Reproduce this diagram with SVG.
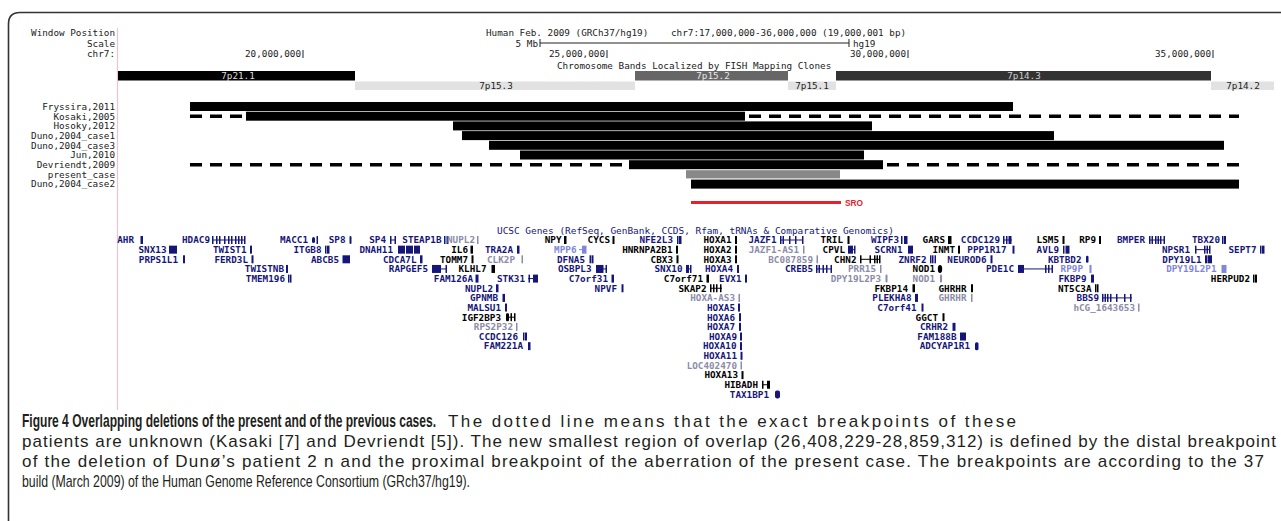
<svg xmlns="http://www.w3.org/2000/svg" width="1281" height="521" viewBox="0 0 1281 521">
<style>
.t{font-family:"DejaVu Sans Mono","Liberation Mono",monospace;font-size:9.3px}
.hd{fill:#222}
.e{text-anchor:end}
.m{text-anchor:middle}
.gt{font-family:"DejaVu Sans Mono","Liberation Mono",monospace;font-size:9.3px;font-weight:bold;text-anchor:end}
.n{fill:#16167a}
.k{fill:#000}
.p{fill:#8c8ca8}
.l{fill:#7f88d8}
.sn{stroke:#16167a;stroke-width:1;fill:none}
.sk{stroke:#000;stroke-width:1;fill:none}
.dash{stroke:#000;stroke-width:3.5;stroke-dasharray:12 8;fill:none}
.cb{font-family:"Liberation Sans",sans-serif;font-size:18px;font-weight:bold;fill:#231f20}
.cr{font-family:"Liberation Sans",sans-serif;font-size:17px;fill:#231f20}
</style>
<rect width="1281" height="521" fill="#fff"/>
<path d="M8.5,521 V24 Q8.5,12.5 20,12.5 H1281" fill="none" stroke="#333" stroke-width="1.6"/>
<line x1="117.5" y1="28" x2="117.5" y2="410" stroke="#f5c2ca" stroke-width="1.2"/>

<g id="header">
<text class="t hd e" x="115" y="36.3">Window Position</text>
<text class="t hd e" x="115" y="47.3">Scale</text>
<text class="t hd e" x="115" y="57.3">chr7:</text>
<text class="t hd" x="486" y="36.3">Human Feb. 2009 (GRCh37/hg19)</text>
<text class="t hd" x="671" y="36.3">chr7:17,000,000-36,000,000 (19,000,001 bp)</text>
<text class="t hd e" x="538" y="47.3">5 Mb</text>
<path d="M540,39 V47 M540,43 H849 M849,39 V47" stroke="#222" stroke-width="1" fill="none"/>
<text class="t hd" x="853" y="47.3">hg19</text>
<text class="t hd e" x="301" y="57.3">20,000,000</text>
<text class="t hd e" x="605" y="57.3">25,000,000</text>
<text class="t hd e" x="906" y="57.3">30,000,000</text>
<text class="t hd e" x="1211" y="57.3">35,000,000</text>
<path d="M303,50 V58 M607,50 V58 M908,50 V58 M1213,50 V58" stroke="#222" stroke-width="1"/>
<text class="t hd" x="557" y="69.3">Chromosome Bands Localized by FISH Mapping Clones</text>
</g>

<g id="bands">
<rect x="118" y="71" width="237" height="9.5" fill="#000"/>
<text class="t m" x="238" y="79.2" fill="#ddd">7p21.1</text>
<rect x="635" y="71" width="153" height="9.5" fill="#666"/>
<text class="t m" x="713" y="79.2" fill="#e8e8e8">7p15.2</text>
<rect x="836" y="71" width="375" height="9.5" fill="#333"/>
<text class="t m" x="1024" y="79.2" fill="#ccc">7p14.3</text>
<rect x="355" y="81.5" width="280" height="8.5" fill="#e2e2e2"/>
<text class="t m hd" x="496" y="89.3">7p15.3</text>
<rect x="788" y="81.5" width="48" height="8.5" fill="#e2e2e2"/>
<text class="t m hd" x="812" y="89.3">7p15.1</text>
<rect x="1211" y="81.5" width="63" height="8.5" fill="#e2e2e2"/>
<text class="t m hd" x="1243" y="89.3">7p14.2</text>
</g>

<g id="track-labels">
<text class="t hd e" x="115" y="109.8">Fryssira,2011</text>
<text class="t hd e" x="115" y="119.5">Kosaki,2005</text>
<text class="t hd e" x="115" y="129.2">Hosoky,2012</text>
<text class="t hd e" x="115" y="138.9">Duno,2004_case1</text>
<text class="t hd e" x="115" y="148.6">Duno,2004_case3</text>
<text class="t hd e" x="115" y="158.3">Jun,2010</text>
<text class="t hd e" x="115" y="168">Devriendt,2009</text>
<text class="t hd e" x="115" y="177.7">present_case</text>
<text class="t hd e" x="115" y="187.4">Duno,2004_case2</text>
</g>

<g id="Fryssira"><rect x="190" y="102" width="823" height="9"/></g>
<g id="Kosaki"><path class="dash" d="M190,116.2 H246"/><rect x="246" y="111.7" width="499" height="9"/><path class="dash" d="M749,116.2 H1239"/></g>
<g id="Hosoky"><rect x="453" y="121.4" width="419" height="9"/></g>
<g id="Duno1"><rect x="462" y="131.1" width="592" height="9"/></g>
<g id="Duno3"><rect x="489" y="140.8" width="735" height="9"/></g>
<g id="Jun"><rect x="520" y="150.5" width="344" height="9"/></g>
<g id="Devriendt"><path class="dash" d="M190,164.7 H629"/><rect x="629" y="160.2" width="254" height="9"/><path class="dash" d="M887,164.7 H1239"/></g>
<g id="present"><rect x="686" y="170.2" width="154" height="8.2" fill="#888"/></g>
<g id="Duno2"><rect x="691" y="179.6" width="548" height="9"/></g>
<g id="SRO"><line x1="691" y1="202.5" x2="841" y2="202.5" stroke="#e3222b" stroke-width="3"/>
<text x="845" y="206" font-family="Liberation Sans,sans-serif" font-size="9" font-weight="bold" fill="#e3222b" textLength="18" lengthAdjust="spacingAndGlyphs">SRO</text></g>

<g id="genes">
<text class="t n" x="497" y="234.3" textLength="397" lengthAdjust="spacingAndGlyphs">UCSC Genes (RefSeq, GenBank, CCDS, Rfam, tRNAs &amp; Comparative Genomics)</text>

<g transform="translate(0,240)">
<text class="gt n" x="134" y="3.3">AHR</text><rect class="n" x="140.5" y="-4" width="2.5" height="8"/>
<text class="gt n" x="210" y="3.3">HDAC9</text><path class="sn" d="M212,0H245"/>
<g class="n"><rect x="212" y="-4" width="1.5" height="8"/><rect x="216" y="-4" width="1.5" height="8"/><rect x="219" y="-4" width="1.5" height="8"/><rect x="224" y="-4" width="1.5" height="8"/><rect x="228" y="-4" width="1.5" height="8"/><rect x="231" y="-4" width="1.5" height="8"/><rect x="235" y="-4" width="1.5" height="8"/><rect x="238" y="-4" width="1.5" height="8"/><rect x="241" y="-4" width="1.5" height="8"/><rect x="244" y="-4" width="1.5" height="8"/></g>
<text class="gt n" x="308" y="3.3">MACC1</text><rect class="n" x="312" y="-3" width="3" height="6" rx="1.5"/><rect class="n" x="316.5" y="-4" width="1.5" height="8"/>
<text class="gt n" x="345.5" y="3.3">SP8</text><rect class="n" x="349.5" y="-4" width="2" height="8" rx="1"/>
<text class="gt n" x="386" y="3.3">SP4</text><path class="sn" d="M390,0H396"/><rect class="n" x="390" y="-4" width="1.5" height="8"/><rect class="n" x="394.5" y="-4" width="1.5" height="8"/>
<text class="gt n" x="441.5" y="3.3">STEAP1B</text><rect class="n" x="444" y="-4" width="1.5" height="8"/><rect class="n" x="446.5" y="-4" width="2" height="8"/>
<text class="gt p" x="475" y="3.3">NUPL2</text><rect class="p" x="477" y="-4" width="1.5" height="8"/>
<text class="gt k" x="561.5" y="3.3">NPY</text><rect class="k" x="564" y="-4" width="2.5" height="8"/>
<text class="gt k" x="610" y="3.3">CYCS</text><rect class="k" x="612.5" y="-4" width="2" height="8"/>
<text class="gt n" x="673" y="3.3">NFE2L3</text><rect class="n" x="677" y="-4" width="1.5" height="8"/><rect class="n" x="679" y="-4" width="2.5" height="8"/>
<text class="gt k" x="731.5" y="3.3">HOXA1</text><rect class="k" x="735" y="-4" width="2" height="8"/>
<text class="gt n" x="776.5" y="3.3">JAZF1</text><path class="sn" d="M780,0H803"/><g class="n"><rect x="780" y="-4" width="1.5" height="8"/><rect x="782.5" y="-4" width="1.5" height="8"/><rect x="789" y="-4" width="1.5" height="8"/><rect x="795" y="-4" width="1.5" height="8"/><rect x="802" y="-4" width="1.5" height="8"/></g>
<text class="gt k" x="843" y="3.3">TRIL</text><rect class="k" x="847.5" y="-4" width="2" height="8"/>
<text class="gt n" x="899" y="3.3">WIPF3</text><rect class="n" x="901" y="-4" width="1.5" height="8"/><rect class="n" x="904" y="-4" width="3.5" height="8"/>
<text class="gt k" x="945" y="3.3">GARS</text><rect class="k" x="948" y="-4" width="3.5" height="8"/>
<text class="gt n" x="1000" y="3.3">CCDC129</text><path class="sn" d="M1003,0H1012"/><rect class="n" x="1003" y="-4" width="1.5" height="8"/><rect class="n" x="1006" y="-4" width="1.5" height="8"/><rect class="n" x="1008.5" y="-4" width="3" height="8"/>
<text class="gt k" x="1059" y="3.3">LSM5</text><rect class="k" x="1062.5" y="-4" width="2" height="8"/>
<text class="gt k" x="1096" y="3.3">RP9</text><rect class="k" x="1099" y="-4" width="2" height="8"/>
<text class="gt n" x="1145" y="3.3">BMPER</text><path class="sn" d="M1149,0H1165"/><g class="n"><rect x="1149" y="-4" width="1.5" height="8"/><rect x="1151.5" y="-4" width="1.5" height="8"/><rect x="1155" y="-4" width="1.5" height="8"/><rect x="1157.5" y="-4" width="1.5" height="8"/><rect x="1160" y="-4" width="1.5" height="8"/><rect x="1163.5" y="-4" width="1.5" height="8"/></g>
<text class="gt n" x="1220" y="3.3">TBX20</text><rect class="n" x="1222" y="-4" width="1.5" height="8"/><rect class="n" x="1224" y="-4" width="2" height="8"/>
</g>

<g transform="translate(0,249.65)">
<text class="gt n" x="166.5" y="3.3">SNX13</text><rect class="n" x="169" y="-4" width="8" height="8"/>
<text class="gt n" x="246.5" y="3.3">TWIST1</text><rect class="n" x="250" y="-4" width="2" height="8"/>
<text class="gt n" x="321.5" y="3.3">ITGB8</text><rect class="n" x="325" y="-4" width="1.5" height="8"/><rect class="n" x="327" y="-4" width="2.5" height="8"/>
<text class="gt n" x="393" y="3.3">DNAH11</text><rect class="n" x="398" y="-4" width="7" height="8"/><rect class="n" x="406" y="-4" width="7" height="8"/><rect class="n" x="414" y="-4" width="6" height="8"/>
<text class="gt k" x="468" y="3.3">IL6</text><rect class="k" x="470.5" y="-4" width="2.5" height="8"/>
<text class="gt n" x="513" y="3.3">TRA2A</text><rect class="n" x="517" y="-4" width="2.5" height="8"/>
<text class="gt l" x="576.5" y="3.3">MPP6</text><path d="M579,0H583" stroke="#7f88d8"/><rect class="l" x="582" y="-4" width="4.5" height="8"/>
<text class="gt k" x="672.5" y="3.3">HNRNPA2B1</text><rect class="k" x="676" y="-4" width="2" height="8"/>
<text class="gt k" x="731.5" y="3.3">HOXA2</text><rect class="k" x="735" y="-4" width="2" height="8"/>
<text class="gt p" x="799" y="3.3">JAZF1-AS1</text><rect class="p" x="803" y="-4" width="1.5" height="8"/>
<text class="gt k" x="845" y="3.3">CPVL</text><path class="sn" d="M848,0H855"/><rect class="n" x="848" y="-4" width="5" height="8"/><rect class="n" x="854" y="-4" width="1.5" height="8"/>
<text class="gt n" x="902.5" y="3.3">SCRN1</text><rect class="n" x="908" y="-4" width="5" height="8"/>
<text class="gt k" x="955" y="3.3">INMT</text><rect class="k" x="958" y="-4" width="2" height="8"/>
<text class="gt n" x="1006.5" y="3.3">PPP1R17</text><rect class="n" x="1012.5" y="-4" width="2" height="8"/>
<text class="gt n" x="1059" y="3.3">AVL9</text><rect class="n" x="1063" y="-4" width="1.5" height="8"/><rect class="n" x="1065.5" y="-4" width="4" height="8"/>
<text class="gt n" x="1190" y="3.3">NPSR1</text><path class="sn" d="M1195,0H1210"/><g class="n"><rect x="1195" y="-4" width="1.5" height="8"/><rect x="1204" y="-4" width="1.5" height="8"/><rect x="1206.5" y="-4" width="1.5" height="8"/><rect x="1209" y="-4" width="1.5" height="8"/></g>
<text class="gt n" x="1256.5" y="3.3">SEPT7</text><rect class="n" x="1260" y="-4" width="1.5" height="8"/><rect class="n" x="1262" y="-4" width="2.5" height="8"/>
</g>

<g transform="translate(0,259.3)">
<text class="gt n" x="178" y="3.3">PRPS1L1</text><rect class="n" x="183" y="-4" width="2" height="8"/>
<text class="gt n" x="248" y="3.3">FERD3L</text><rect class="n" x="251.5" y="-4" width="2" height="8"/>
<text class="gt n" x="339" y="3.3">ABCB5</text><rect class="n" x="342.5" y="-4" width="7.5" height="8"/>
<text class="gt n" x="416.5" y="3.3">CDCA7L</text><rect class="n" x="420" y="-4" width="2.5" height="8"/>
<text class="gt k" x="468" y="3.3">TOMM7</text><rect class="k" x="471.5" y="-4" width="2" height="8"/>
<text class="gt p" x="515" y="3.3">CLK2P</text><rect class="p" x="521.5" y="-4" width="1.5" height="8"/>
<text class="gt n" x="585" y="3.3">DFNA5</text><rect class="n" x="589.5" y="-4" width="1.5" height="8"/><rect class="n" x="591.5" y="-4" width="2" height="8"/>
<text class="gt k" x="673" y="3.3">CBX3</text><rect class="k" x="676.5" y="-4" width="2" height="8"/>
<text class="gt k" x="731.5" y="3.3">HOXA3</text><rect class="k" x="735" y="-4" width="2" height="8"/>
<text class="gt p" x="813" y="3.3">BC087859</text><rect class="p" x="816.5" y="-4" width="1.5" height="8"/>
<text class="gt k" x="856.5" y="3.3">CHN2</text><path class="sk" d="M860,0H880"/><g class="k"><rect x="860" y="-4" width="1.5" height="8"/><rect x="869.5" y="-4" width="1.5" height="8"/><rect x="874" y="-4" width="1.5" height="8"/><rect x="876.5" y="-4" width="1.5" height="8"/><rect x="879" y="-4" width="1.5" height="8"/></g>
<text class="gt n" x="926.5" y="3.3">ZNRF2</text><g class="n"><rect x="930" y="-4" width="1.5" height="8"/><rect x="932" y="-4" width="1.5" height="8"/><rect x="934.5" y="-4" width="1.5" height="8"/></g>
<text class="gt n" x="986.5" y="3.3">NEUROD6</text><rect class="n" x="990.5" y="-4" width="2" height="8"/>
<text class="gt n" x="1081.5" y="3.3">KBTBD2</text><rect class="n" x="1086" y="-3.5" width="2.5" height="7" rx="1.2"/>
<text class="gt n" x="1201.5" y="3.3">DPY19L1</text><rect class="n" x="1205" y="-4" width="2.5" height="8"/><rect class="n" x="1208" y="-4" width="4" height="8"/>
</g>

<g transform="translate(0,268.95)">
<text class="gt n" x="284" y="3.3">TWISTNB</text><rect class="n" x="286" y="-4" width="2" height="8"/>
<text class="gt n" x="428" y="3.3">RAPGEF5</text><path class="sn" d="M432,0H447"/><rect class="n" x="432" y="-4" width="9" height="8"/><rect class="n" x="445.5" y="-4" width="1.5" height="8"/>
<text class="gt k" x="486.5" y="3.3">KLHL7</text><rect class="k" x="491.5" y="-4" width="3.5" height="8"/>
<text class="gt n" x="591.5" y="3.3">OSBPL3</text><path class="sn" d="M596,0H607"/><rect class="n" x="596" y="-4" width="7.5" height="8"/><rect class="n" x="605.5" y="-4" width="1.5" height="8"/>
<text class="gt n" x="682.5" y="3.3">SNX10</text><path class="sn" d="M686,0H691"/><rect class="n" x="686" y="-4" width="3" height="8"/><rect class="n" x="690" y="-4" width="1.5" height="8"/>
<text class="gt n" x="733" y="3.3">HOXA4</text><rect class="n" x="737" y="-4" width="2" height="8"/>
<text class="gt n" x="813" y="3.3">CREB5</text><path class="sn" d="M816,0H832"/><g class="n"><rect x="816" y="-4" width="1.5" height="8"/><rect x="818.5" y="-4" width="1.5" height="8"/><rect x="822.5" y="-4" width="1.5" height="8"/><rect x="826" y="-4" width="1.5" height="8"/><rect x="830.5" y="-4" width="1.5" height="8"/></g>
<text class="gt p" x="876" y="3.3">PRR15</text><rect class="p" x="880" y="-4" width="1.5" height="8"/>
<text class="gt k" x="935" y="3.3">NOD1</text><ellipse class="k" cx="940" cy="0" rx="2.2" ry="4"/>
<text class="gt n" x="1014" y="3.3">PDE1C</text><path class="sn" d="M1018,0H1053"/><rect class="n" x="1018" y="-4" width="6" height="8"/><rect class="n" x="1045" y="-4" width="1.5" height="8"/><rect class="n" x="1048" y="-4" width="1.5" height="8"/><rect class="n" x="1051.5" y="-4" width="1.5" height="8"/>
<text class="gt l" x="1083" y="3.3">RP9P</text><rect class="l" x="1089.5" y="-4" width="2" height="8"/>
<text class="gt l" x="1216.5" y="3.3">DPY19L2P1</text><rect class="l" x="1221.5" y="-4" width="5" height="8"/>
</g>

<g transform="translate(0,278.6)">
<text class="gt n" x="285" y="3.3">TMEM196</text><rect class="n" x="288" y="-4" width="1.5" height="8"/><rect class="n" x="290" y="-4" width="1.5" height="8"/>
<text class="gt n" x="473" y="3.3">FAM126A</text><rect class="n" x="475.5" y="-4" width="3" height="8"/>
<text class="gt n" x="525" y="3.3">STK31</text><path class="sn" d="M528,0H538"/><rect class="n" x="528.5" y="-4" width="1.5" height="8"/><rect class="n" x="533" y="-4" width="5" height="8"/>
<text class="gt n" x="608" y="3.3">C7orf31</text><rect class="n" x="611.5" y="-4" width="2.5" height="8"/>
<text class="gt k" x="703" y="3.3">C7orf71</text><rect class="k" x="706.5" y="-4" width="2.5" height="8"/>
<text class="gt n" x="741.5" y="3.3">EVX1</text><rect class="n" x="745" y="-4" width="2" height="8"/>
<text class="gt p" x="881" y="3.3">DPY19L2P3</text><rect class="p" x="885.5" y="-4" width="2" height="8" rx="1"/>
<text class="gt p" x="935" y="3.3">NOD1</text><rect class="p" x="940" y="-4" width="2" height="8" rx="1"/>
<text class="gt n" x="1086.5" y="3.3">FKBP9</text><rect class="n" x="1091" y="-4" width="3" height="8"/>
<text class="gt k" x="1250" y="3.3">HERPUD2</text><rect class="k" x="1253" y="-4" width="1.5" height="8"/><rect class="k" x="1255" y="-4" width="2" height="8"/>
</g>

<g transform="translate(0,288.25)">
<text class="gt n" x="493" y="3.3">NUPL2</text><rect class="n" x="496" y="-4" width="2.5" height="8"/>
<text class="gt n" x="617" y="3.3">NPVF</text><rect class="n" x="621.5" y="-4" width="2" height="8"/>
<text class="gt k" x="706.5" y="3.3">SKAP2</text><path class="sk" d="M710,0H722"/><g class="k"><rect x="710" y="-4" width="1.5" height="8"/><rect x="713" y="-4" width="1.5" height="8"/><rect x="716" y="-4" width="1.5" height="8"/><rect x="720" y="-4" width="1.5" height="8"/></g>
<text class="gt k" x="908" y="3.3">FKBP14</text><rect class="k" x="912.5" y="-4" width="2.5" height="8"/>
<text class="gt k" x="966.5" y="3.3">GHRHR</text><rect class="k" x="971" y="-4" width="2" height="8"/>
<text class="gt k" x="1091.5" y="3.3">NT5C3A</text><rect class="k" x="1095" y="-4" width="1.5" height="8"/><rect class="k" x="1097" y="-4" width="1.5" height="8"/>
</g>

<g transform="translate(0,297.9)">
<text class="gt n" x="498" y="3.3">GPNMB</text><rect class="n" x="502.5" y="-4" width="2.5" height="8"/>
<text class="gt p" x="735" y="3.3">HOXA-AS3</text><rect class="p" x="738.5" y="-4" width="1.5" height="8"/>
<text class="gt n" x="911.5" y="3.3">PLEKHA8</text><rect class="n" x="915" y="-4" width="3" height="8"/>
<text class="gt p" x="966.5" y="3.3">GHRHR</text><rect class="p" x="971" y="-4" width="1.5" height="8"/>
<text class="gt n" x="1099" y="3.3">BBS9</text><path class="sn" d="M1102,0H1132"/><g class="n"><rect x="1102" y="-4" width="1.5" height="8"/><rect x="1104.5" y="-4" width="1.5" height="8"/><rect x="1107" y="-4" width="1.5" height="8"/><rect x="1110" y="-4" width="1.5" height="8"/><rect x="1116" y="-4" width="1.5" height="8"/><rect x="1124" y="-4" width="1.5" height="8"/><rect x="1130" y="-4" width="1.5" height="8"/></g>
</g>

<g transform="translate(0,307.55)">
<text class="gt n" x="501" y="3.3">MALSU1</text><rect class="n" x="505" y="-4" width="2" height="8"/>
<text class="gt n" x="735" y="3.3">HOXA5</text><rect class="n" x="738" y="-4" width="2" height="8"/>
<text class="gt n" x="916.5" y="3.3">C7orf41</text><rect class="n" x="921.5" y="-4" width="2" height="8"/>
<text class="gt p" x="1135" y="3.3">hCG_1643653</text><rect class="p" x="1138" y="-4" width="1.5" height="8"/>
</g>

<g transform="translate(0,317.2)">
<text class="gt k" x="501" y="3.3">IGF2BP3</text><path class="sk" d="M506,0H515"/><rect class="k" x="506" y="-4" width="3" height="8" rx="1.2"/><rect class="k" x="510.5" y="-4" width="1.5" height="8"/><rect class="k" x="514" y="-4" width="1.5" height="8"/>
<text class="gt n" x="735" y="3.3">HOXA6</text><rect class="n" x="739" y="-4" width="2" height="8"/>
<text class="gt k" x="938" y="3.3">GGCT</text><rect class="k" x="942.5" y="-4" width="2" height="8"/>
</g>

<g transform="translate(0,326.85)">
<text class="gt p" x="513" y="3.3">RPS2P32</text><rect class="p" x="516" y="-4" width="1.5" height="8"/>
<text class="gt n" x="735" y="3.3">HOXA7</text><rect class="n" x="739" y="-4" width="2" height="8"/>
<text class="gt n" x="948" y="3.3">CRHR2</text><rect class="n" x="952.5" y="-4" width="3" height="8"/>
</g>

<g transform="translate(0,336.5)">
<text class="gt n" x="518" y="3.3">CCDC126</text><rect class="n" x="523" y="-4" width="1.5" height="8"/><rect class="n" x="525" y="-4" width="2" height="8"/>
<text class="gt n" x="737" y="3.3">HOXA9</text><rect class="n" x="740" y="-4" width="2" height="8"/>
<text class="gt n" x="956.5" y="3.3">FAM188B</text><rect class="n" x="960" y="-4" width="6" height="8"/>
</g>

<g transform="translate(0,346.15)">
<text class="gt n" x="523" y="3.3">FAM221A</text><rect class="n" x="528" y="-4" width="2.5" height="8"/>
<text class="gt n" x="736.5" y="3.3">HOXA10</text><rect class="n" x="740" y="-4" width="2" height="8"/>
<text class="gt n" x="970" y="3.3">ADCYAP1R1</text><rect class="n" x="975" y="-4" width="3.5" height="8" rx="1.5"/>
</g>

<g transform="translate(0,355.8)">
<text class="gt n" x="737" y="3.3">HOXA11</text><rect class="n" x="740.5" y="-4" width="2" height="8"/>
</g>
<g transform="translate(0,365.45)">
<text class="gt p" x="737" y="3.3">LOC402470</text><rect class="p" x="740.5" y="-4" width="1.5" height="8"/>
</g>
<g transform="translate(0,375.1)">
<text class="gt k" x="738" y="3.3">HOXA13</text><rect class="k" x="741.5" y="-4" width="2" height="8"/>
</g>
<g transform="translate(0,384.75)">
<text class="gt k" x="758" y="3.3">HIBADH</text><path class="sk" d="M762,0H770"/><rect class="k" x="762" y="-4" width="1.5" height="8"/><rect class="k" x="767" y="-4" width="3" height="8"/>
</g>
<g transform="translate(0,394.4)">
<text class="gt n" x="769" y="3.3">TAX1BP1</text><rect class="n" x="775" y="-4" width="5" height="8" rx="1.8"/>
</g>
</g>

<g id="caption">
<text class="cb" transform="translate(22,427) scale(0.72,1)" x="0" y="0" textLength="575" lengthAdjust="spacingAndGlyphs">Figure 4 Overlapping deletions of the present and of the previous cases.</text>
<text class="cr" x="448" y="427" textLength="568" lengthAdjust="spacing">The dotted line means that the exact breakpoints of these</text>
<text class="cr" x="22" y="447" textLength="1254" lengthAdjust="spacing">patients are unknown (Kasaki [7] and Devriendt [5]). The new smallest region of overlap (26,408,229-28,859,312) is defined by the distal breakpoint</text>
<text class="cr" x="22" y="467" textLength="1242" lengthAdjust="spacing">of the deletion of Dunø’s patient 2 n and the proximal breakpoint of the aberration of the present case. The breakpoints are according to the 37</text>
<text class="cr" x="22" y="487" textLength="448" lengthAdjust="spacingAndGlyphs">build (March 2009) of the Human Genome Reference Consortium (GRch37/hg19).</text>
</g>
</svg>
